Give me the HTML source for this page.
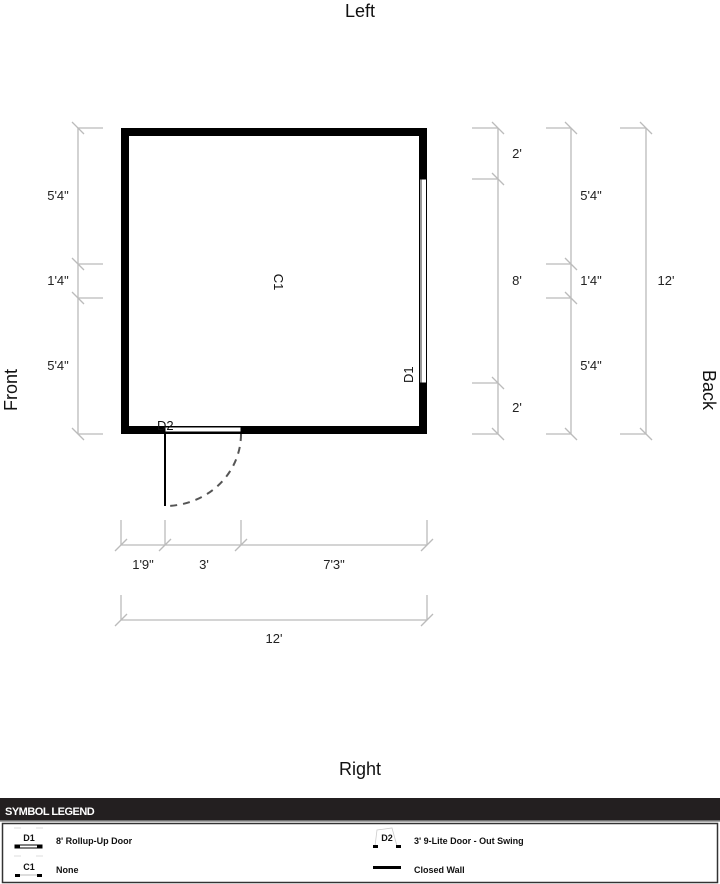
<!DOCTYPE html>
<html><head><meta charset="utf-8"><style>
html,body{margin:0;padding:0;background:#fff;}
svg{display:block;}
text{font-family:"Liberation Sans",Arial,sans-serif;}
.d{font-size:13px;fill:#222;}
.l{font-size:9px;font-weight:bold;fill:#111;}
</style></head><body>
<svg width="720" height="884" viewBox="0 0 720 884" xmlns="http://www.w3.org/2000/svg">
<text x="360" y="17" font-size="18" text-anchor="middle" fill="#111">Left</text>
<text x="360" y="775" font-size="18" text-anchor="middle" fill="#111">Right</text>
<text transform="translate(17,390) rotate(-90)" font-size="18" text-anchor="middle" fill="#111">Front</text>
<text transform="translate(703,390) rotate(90)" font-size="18" text-anchor="middle" fill="#111">Back</text>

<g stroke="#bbb" stroke-width="1.3" fill="none">
<!-- left dims -->
<line x1="78" y1="128" x2="78" y2="434"/>
<line x1="78" y1="128" x2="103" y2="128"/><line x1="72" y1="122" x2="84" y2="134"/>
<line x1="78" y1="264" x2="103" y2="264"/><line x1="72" y1="258" x2="84" y2="270"/>
<line x1="78" y1="298" x2="103" y2="298"/><line x1="72" y1="292" x2="84" y2="304"/>
<line x1="78" y1="434" x2="103" y2="434"/><line x1="72" y1="428" x2="84" y2="440"/>
<!-- right group 1 -->
<line x1="498" y1="128" x2="498" y2="434"/>
<line x1="472" y1="128" x2="498" y2="128"/><line x1="492" y1="122" x2="504" y2="134"/>
<line x1="472" y1="179" x2="498" y2="179"/><line x1="492" y1="173" x2="504" y2="185"/>
<line x1="472" y1="383" x2="498" y2="383"/><line x1="492" y1="377" x2="504" y2="389"/>
<line x1="472" y1="434" x2="498" y2="434"/><line x1="492" y1="428" x2="504" y2="440"/>
<!-- right group 2 -->
<line x1="571" y1="128" x2="571" y2="434"/>
<line x1="546" y1="128" x2="571" y2="128"/><line x1="565" y1="122" x2="577" y2="134"/>
<line x1="546" y1="264" x2="571" y2="264"/><line x1="565" y1="258" x2="577" y2="270"/>
<line x1="546" y1="298" x2="571" y2="298"/><line x1="565" y1="292" x2="577" y2="304"/>
<line x1="546" y1="434" x2="571" y2="434"/><line x1="565" y1="428" x2="577" y2="440"/>
<!-- right group 3 -->
<line x1="646" y1="128" x2="646" y2="434"/>
<line x1="620" y1="128" x2="646" y2="128"/><line x1="640" y1="122" x2="652" y2="134"/>
<line x1="620" y1="434" x2="646" y2="434"/><line x1="640" y1="428" x2="652" y2="440"/>
<!-- bottom dims -->
<line x1="121" y1="545" x2="427" y2="545"/>
<line x1="121" y1="520" x2="121" y2="545"/><line x1="115" y1="551" x2="127" y2="539"/>
<line x1="165" y1="520" x2="165" y2="545"/><line x1="159" y1="551" x2="171" y2="539"/>
<line x1="241" y1="520" x2="241" y2="545"/><line x1="235" y1="551" x2="247" y2="539"/>
<line x1="427" y1="520" x2="427" y2="545"/><line x1="421" y1="551" x2="433" y2="539"/>
<line x1="121" y1="620" x2="427" y2="620"/>
<line x1="121" y1="595" x2="121" y2="620"/><line x1="115" y1="626" x2="127" y2="614"/>
<line x1="427" y1="595" x2="427" y2="620"/><line x1="421" y1="626" x2="433" y2="614"/>
</g>

<text class="d" x="58" y="200" text-anchor="middle">5'4"</text>
<text class="d" x="58" y="285" text-anchor="middle">1'4"</text>
<text class="d" x="58" y="370" text-anchor="middle">5'4"</text>
<text class="d" x="517" y="158" text-anchor="middle">2'</text>
<text class="d" x="517" y="285" text-anchor="middle">8'</text>
<text class="d" x="517" y="412" text-anchor="middle">2'</text>
<text class="d" x="591" y="200" text-anchor="middle">5'4"</text>
<text class="d" x="591" y="285" text-anchor="middle">1'4"</text>
<text class="d" x="591" y="370" text-anchor="middle">5'4"</text>
<text class="d" x="666" y="285" text-anchor="middle">12'</text>
<text class="d" x="143" y="569" text-anchor="middle">1'9"</text>
<text class="d" x="204" y="569" text-anchor="middle">3'</text>
<text class="d" x="334" y="569" text-anchor="middle">7'3"</text>
<text class="d" x="274" y="643" text-anchor="middle">12'</text>

<!-- walls -->
<rect x="125" y="132" width="298" height="298" fill="none" stroke="#000" stroke-width="8"/>
<!-- D1 -->
<rect x="419.5" y="179" width="7" height="204" fill="#fff" stroke="#000" stroke-width="1"/>
<line x1="421" y1="179" x2="421" y2="383" stroke="#000" stroke-width="0.8"/>
<text transform="translate(413,383) rotate(-90)" font-size="13" fill="#111">D1</text>
<!-- D2 -->
<rect x="165" y="427" width="76" height="5" fill="#fff" stroke="#000" stroke-width="1"/>
<text x="157" y="430" font-size="13" fill="#111">D2</text>
<line x1="165" y1="432" x2="165" y2="506" stroke="#000" stroke-width="2"/>
<path d="M241 434 A76 72 0 0 1 165 506" fill="none" stroke="#555" stroke-width="2" stroke-dasharray="7,6"/>
<text transform="translate(274,282) rotate(90)" font-size="13" text-anchor="middle" fill="#111">C1</text>

<!-- legend -->
<rect x="0" y="798" width="720" height="23" fill="#231f20"/>
<line x1="0" y1="821" x2="720" y2="821" stroke="#888" stroke-width="1.5"/>
<text x="5" y="815" font-size="11" font-weight="bold" fill="#fff" letter-spacing="-0.5">SYMBOL LEGEND</text>
<rect x="2.5" y="823.5" width="715" height="59" fill="#fff" stroke="#333" stroke-width="1.5"/>
<g stroke="#ddd" stroke-width="1"><line x1="14" y1="828" x2="21" y2="828"/><line x1="36" y1="828" x2="43" y2="828"/><line x1="14" y1="856" x2="21" y2="856"/><line x1="36" y1="856" x2="43" y2="856"/></g>
<text class="l" x="29" y="841" text-anchor="middle">D1</text>
<rect x="15" y="845" width="27" height="3" fill="#fff" stroke="#000" stroke-width="1"/>
<rect x="15" y="845" width="5" height="3" fill="#000"/><rect x="37" y="845" width="5" height="3" fill="#000"/>
<text class="l" x="56" y="844">8' Rollup-Up Door</text>
<text class="l" x="29" y="870" text-anchor="middle">C1</text>
<line x1="15" y1="875" x2="42" y2="875" stroke="#bbb"/>
<rect x="15" y="874" width="5" height="3" fill="#000"/><rect x="37" y="874" width="5" height="3" fill="#000"/>
<text class="l" x="56" y="873">None</text>
<text class="l" x="387" y="841" text-anchor="middle">D2</text>
<path d="M375 846 L377 830 L392 828 L397 846" fill="none" stroke="#ccc" stroke-width="0.8"/>
<rect x="373" y="845" width="5" height="3" fill="#000"/><rect x="396" y="845" width="5" height="3" fill="#000"/>
<text class="l" x="414" y="844">3' 9-Lite Door - Out Swing</text>
<rect x="373" y="866" width="28" height="3" fill="#000"/>
<text class="l" x="414" y="873">Closed Wall</text>
</svg>
</body></html>
